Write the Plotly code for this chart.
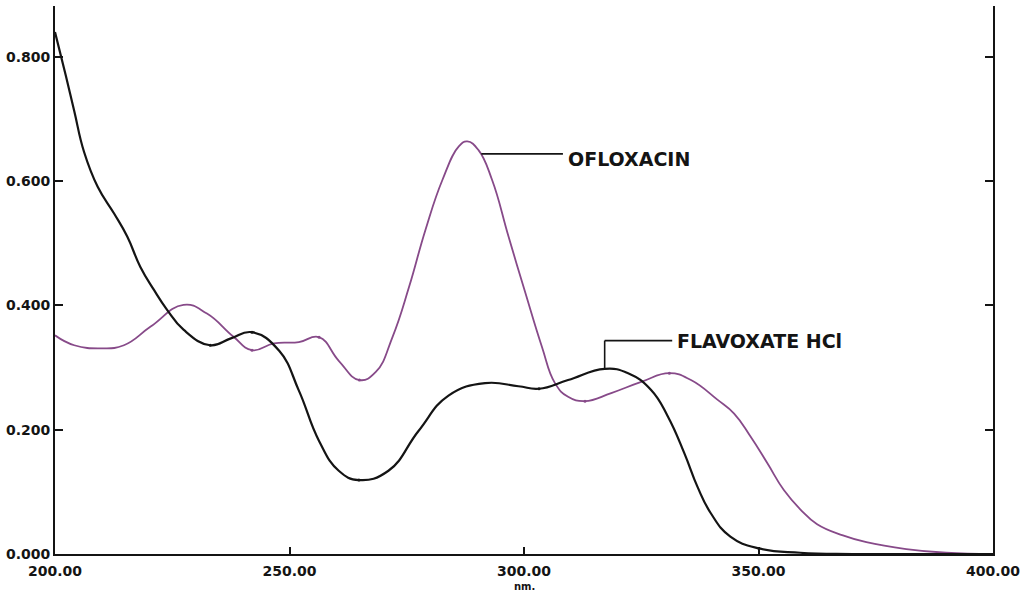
import plotly.graph_objects as go

# Absorption spectra (wavelength in nm, absorbance)
flav_nm = [200.0, 202.3, 204.1, 206.2, 209.1, 212.6, 215.4, 218.2, 221.1, 223.9, 227.4, 233.1,
           237.5, 242.0, 247.8, 252.0, 256.3, 260.5, 264.8, 271.1, 277.5, 283.9, 291.7, 298.8,
           303.2, 309.4, 317.2, 322.2, 327.1, 330.7, 334.2, 337.0, 339.8, 344.0, 350.1, 358.9,
           370.0, 385.0, 400.0]
flav_abs = [0.840, 0.770, 0.713, 0.647, 0.591, 0.548, 0.511, 0.462, 0.425, 0.393, 0.361, 0.336,
            0.347, 0.357, 0.327, 0.263, 0.182, 0.134, 0.119, 0.134, 0.198, 0.255, 0.275, 0.270,
            0.266, 0.280, 0.298, 0.291, 0.264, 0.221, 0.162, 0.108, 0.066, 0.028, 0.009, 0.002,
            0.0, 0.0, 0.0]

oflx_nm = [200.0, 204.1, 209.8, 214.7, 220.4, 227.4, 232.4, 238.0, 242.0, 246.7, 252.0, 256.3,
           260.5, 264.9, 268.4, 272.0, 275.5, 279.0, 282.6, 286.1, 287.9, 290.3, 293.2, 296.7,
           300.3, 303.8, 306.6, 309.4, 313.0, 318.6, 325.0, 331.0, 335.6, 341.3, 344.8, 348.3,
           351.9, 355.4, 358.9, 362.5, 368.0, 373.0, 381.5, 390.0, 400.0]
oflx_abs = [0.352, 0.336, 0.331, 0.336, 0.366, 0.401, 0.387, 0.350, 0.328, 0.339, 0.341, 0.349,
            0.311, 0.280, 0.293, 0.350, 0.430, 0.522, 0.602, 0.656, 0.664, 0.650, 0.602, 0.511,
            0.420, 0.334, 0.275, 0.253, 0.246, 0.259, 0.277, 0.291, 0.280, 0.248, 0.226, 0.189,
            0.146, 0.103, 0.072, 0.048, 0.030, 0.019, 0.008, 0.002, 0.0]

# Peak / valley picks marked on each spectrum
flav_pick_nm = [233.1, 242.0, 264.8, 303.2, 350.1]
flav_pick_abs = [0.336, 0.357, 0.119, 0.266, 0.009]
oflx_pick_nm = [242.0, 256.3, 264.9, 313.0, 331.0]
oflx_pick_abs = [0.328, 0.349, 0.280, 0.246, 0.291]

x_ticks = [200, 250, 300, 350, 400]
y_ticks = [0.0, 0.2, 0.4, 0.6, 0.8]

BLACK = "#141414"
PURPLE = "#874a89"

fig = go.Figure()
fig.add_trace(go.Scatter(x=oflx_nm, y=oflx_abs, mode="lines",
                         line=dict(color=PURPLE, width=1.8, shape="spline", smoothing=1.3)))
fig.add_trace(go.Scatter(x=flav_nm, y=flav_abs, mode="lines",
                         line=dict(color=BLACK, width=2.2, shape="spline", smoothing=1.3)))
fig.add_trace(go.Scatter(x=oflx_pick_nm, y=oflx_pick_abs, mode="markers",
                         marker=dict(color=PURPLE, size=3)))
fig.add_trace(go.Scatter(x=flav_pick_nm, y=flav_pick_abs, mode="markers",
                         marker=dict(color=BLACK, size=3)))

# Leader lines for the labels
fig.add_shape(type="line", x0=290.9, y0=0.644, x1=308.3, y1=0.644,
              line=dict(color=BLACK, width=1.6))
fig.add_shape(type="line", x0=317.2, y0=0.298, x1=317.2, y1=0.3435,
              line=dict(color=BLACK, width=1.6))
fig.add_shape(type="line", x0=317.2, y0=0.3435, x1=331.6, y1=0.3435,
              line=dict(color=BLACK, width=1.6))

label_font = dict(family="DejaVu Sans", size=19, color=BLACK, weight="bold")
fig.add_annotation(x=308.9, y=0.636, text="OFLOXACIN", showarrow=False,
                   xanchor="left", yanchor="middle", font=label_font)
fig.add_annotation(x=332.2, y=0.343, text="FLAVOXATE HCl", showarrow=False,
                   xanchor="left", yanchor="middle", font=label_font)
fig.add_annotation(x=300, y=0, xref="x", yref="paper", text="nm.", showarrow=False,
                   yshift=-32, xanchor="center", yanchor="middle",
                   font=dict(family="DejaVu Sans", size=10, color=BLACK, weight="bold"))

tick_font = dict(family="DejaVu Sans", size=14, color=BLACK, weight="bold")
fig.update_layout(
    width=1026, height=597,
    margin=dict(l=54, r=29, t=6, b=43),
    paper_bgcolor="white", plot_bgcolor="white",
    showlegend=False,
    xaxis=dict(range=[200, 400], tickvals=x_ticks, ticktext=[f"{v:.2f}" for v in x_ticks],
               showgrid=False, zeroline=False, showline=True, linecolor=BLACK, linewidth=2,
               ticks="inside", ticklen=7, tickwidth=1.5, tickcolor=BLACK,
               tickfont=tick_font, mirror=False, ticklabelstandoff=3),
    yaxis=dict(range=[0, 0.882], tickvals=y_ticks, ticktext=[f"{v:.3f}" for v in y_ticks],
               showgrid=False, zeroline=False, showline=True, linecolor=BLACK, linewidth=2,
               ticks="inside", ticklen=8, tickwidth=1.5, tickcolor=BLACK,
               tickfont=tick_font, mirror="ticks"),
)

fig.write_html("out.html")
